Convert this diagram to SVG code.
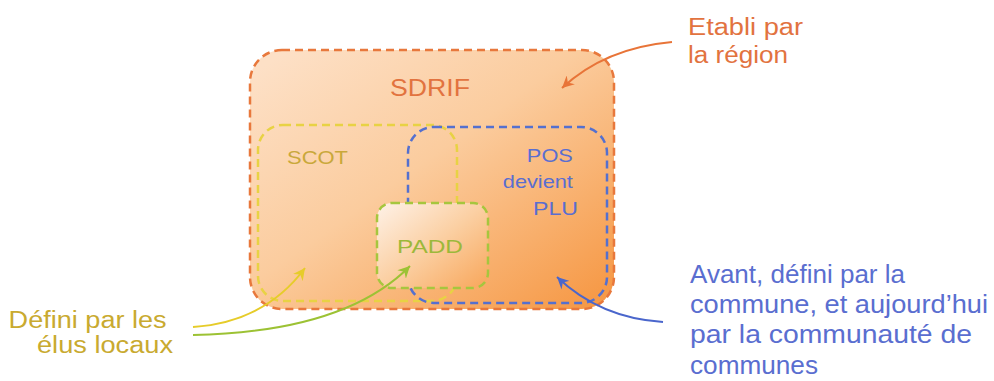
<svg xmlns="http://www.w3.org/2000/svg" width="994" height="381" viewBox="0 0 994 381">
<style>
text{font-family:"Liberation Sans",Arial,sans-serif;}
.box{stroke-width:2.5;stroke-dasharray:8 5;stroke-linecap:butt;}
.arr{fill:none;stroke-width:2;}
</style>
<defs>
<linearGradient id="gS" x1="0.1" y1="0" x2="1" y2="0.9">
<stop offset="0" stop-color="#fde0c6"/>
<stop offset="0.45" stop-color="#fbcc9e"/>
<stop offset="1" stop-color="#f69a48"/>
</linearGradient>
<linearGradient id="gP" x1="0" y1="0" x2="1" y2="1">
<stop offset="0" stop-color="#fef2e8"/>
<stop offset="0.5" stop-color="#fbcfa2"/>
<stop offset="1" stop-color="#f8a65a"/>
</linearGradient>
<marker id="mO" markerWidth="14" markerHeight="12" refX="12" refY="6" orient="auto" markerUnits="userSpaceOnUse"><path d="M0,0 L12,6 L0,12 L4,6 Z" fill="#e87438"/></marker>
<marker id="mY" markerWidth="14" markerHeight="12" refX="12" refY="6" orient="auto" markerUnits="userSpaceOnUse"><path d="M0,0 L12,6 L0,12 L4,6 Z" fill="#e6cc2a"/></marker>
<marker id="mG" markerWidth="14" markerHeight="12" refX="12" refY="6" orient="auto" markerUnits="userSpaceOnUse"><path d="M0,0 L12,6 L0,12 L4,6 Z" fill="#9cc234"/></marker>
<marker id="mB" markerWidth="14" markerHeight="12" refX="12" refY="6" orient="auto" markerUnits="userSpaceOnUse"><path d="M0,0 L12,6 L0,12 L4,6 Z" fill="#4a66cc"/></marker>
</defs>

<g id="sdrif">
<rect class="box" x="250" y="50" width="364" height="259" rx="32" fill="url(#gS)" stroke="#e8783c"/>
<text x="430" y="96" text-anchor="middle" font-size="23" fill="#e2733f" textLength="80" lengthAdjust="spacingAndGlyphs">SDRIF</text>
</g>

<g id="scot">
<rect class="box" x="258" y="125" width="199" height="176" rx="25" fill="none" stroke="#e8d244"/>
<text x="287" y="164" font-size="19" fill="#c9a83a" textLength="61" lengthAdjust="spacingAndGlyphs">SCOT</text>
</g>

<g id="pos">
<rect class="box" x="408" y="127" width="199" height="176" rx="26" fill="none" stroke="#5470cf"/>
<text text-anchor="end" font-size="18.5" fill="#5a6ed0">
<tspan x="578" y="162" textLength="46" lengthAdjust="spacingAndGlyphs">POS</tspan>
<tspan x="578" y="188" textLength="70" lengthAdjust="spacingAndGlyphs">devient</tspan>
<tspan x="578" y="215" textLength="45" lengthAdjust="spacingAndGlyphs">PLU</tspan>
</text>
</g>

<g id="padd">
<rect class="box" x="377" y="203" width="111" height="85" rx="15" fill="url(#gP)" stroke="#a6c63e"/>
<text x="430" y="253" text-anchor="middle" font-size="19" fill="#9cb83a" textLength="66" lengthAdjust="spacingAndGlyphs">PADD</text>
</g>

<g id="label-region">
<text font-size="23" fill="#e2733f">
<tspan x="688" y="35" textLength="115" lengthAdjust="spacingAndGlyphs">Etabli par</tspan>
<tspan x="688" y="63" textLength="100" lengthAdjust="spacingAndGlyphs">la région</tspan>
</text>
</g>

<g id="label-elus">
<text text-anchor="end" font-size="23" fill="#c9aa30">
<tspan x="173" y="328" textLength="158" lengthAdjust="spacingAndGlyphs">Défini par les</tspan>
<tspan x="173" y="353" textLength="136" lengthAdjust="spacingAndGlyphs">élus locaux</tspan>
</text>
</g>

<g id="label-commune">
<text font-size="25" fill="#5a6ed0">
<tspan x="690" y="283" textLength="215" lengthAdjust="spacingAndGlyphs">Avant, défini par la</tspan>
<tspan x="690" y="313" textLength="298" lengthAdjust="spacingAndGlyphs">commune, et aujourd’hui</tspan>
<tspan x="690" y="343" textLength="282" lengthAdjust="spacingAndGlyphs">par la communauté de</tspan>
<tspan x="690" y="374" textLength="128" lengthAdjust="spacingAndGlyphs">communes</tspan>
</text>
</g>

<g id="connectors">
<path class="arr" d="M672,42 Q605,48 562,88" stroke="#e87438" marker-end="url(#mO)"/>
<path class="arr" d="M193,327 Q265,322 305,268" stroke="#e6cc2a" marker-end="url(#mY)"/>
<path class="arr" d="M193,335 Q345,332 410,266" stroke="#9cc234" marker-end="url(#mG)"/>
<path class="arr" d="M663,322 Q600,318 557,277" stroke="#4a66cc" marker-end="url(#mB)"/>
</g>
</svg>
